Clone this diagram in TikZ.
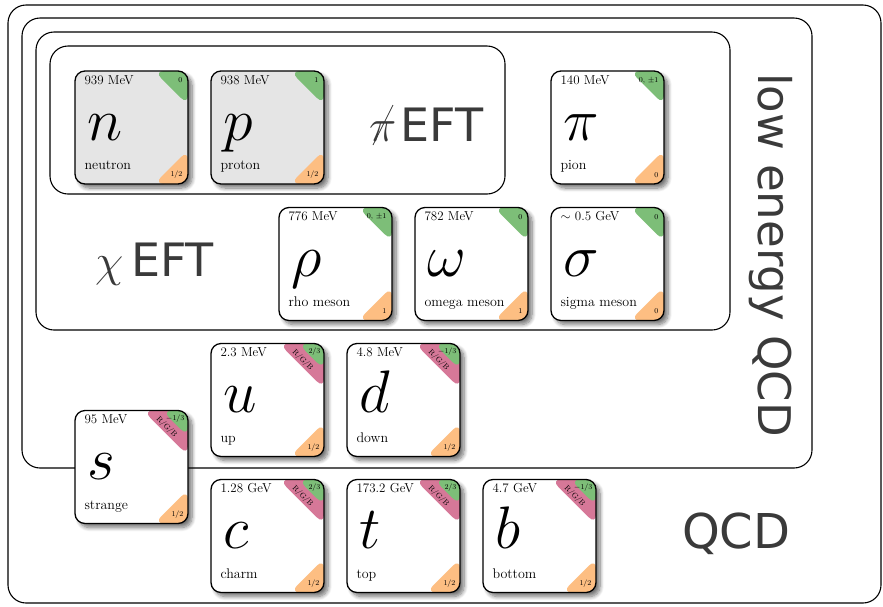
\documentclass[tikz,border=0pt]{standalone}
\usepackage{fix-cm}
\usepackage{fontspec}
\newfontfamily\labelsans{DejaVu Sans}
\usetikzlibrary{shadows.blur}
\definecolor{cgreen}{RGB}{125,190,120}
\definecolor{corange}{RGB}{253,190,130}
\definecolor{cpink}{RGB}{214,120,152}
\definecolor{cgray}{RGB}{229,229,229}
\definecolor{txtgray}{RGB}{58,58,58}
\tikzset{
  region/.style={draw, line width=1.1pt, rounded corners=18pt},
  card/.style={draw, line width=1.3pt, rounded corners=10pt, minimum width=113pt, minimum height=113pt, inner sep=0pt,
    blur shadow={shadow xshift=4pt, shadow yshift=-4pt, shadow blur steps=8, shadow blur radius=4pt, shadow opacity=55}},
  hadronbg/.style={path picture={
    \fill[cgreen] (path picture bounding box.north east) -- ++(-34,0) -- ++(34,34) -- cycle;
    \fill[corange] (path picture bounding box.south east) -- ++(-34,0) -- ++(34,-34) -- cycle;}},
  quarkbg/.style={path picture={
    \fill[cpink] (path picture bounding box.north east) -- ++(-45,0) -- ++(45,45) -- cycle;
    \fill[cgreen] (path picture bounding box.north east) -- ++(-26,0) -- ++(26,26) -- cycle;
    \fill[corange] (path picture bounding box.south east) -- ++(-34,0) -- ++(34,-34) -- cycle;}},
  masst/.style={inner sep=0pt, font=\fontsize{13}{13}\selectfont},
  namet/.style={inner sep=0pt, font=\fontsize{14}{14}\selectfont},
  symt/.style={inner sep=0pt, font=\fontsize{60}{60}\selectfont},
  tinyt/.style={inner sep=0pt, font=\fontsize{7.5}{7.5}\selectfont},
  bigsans/.style={inner sep=0pt, text=txtgray, font=\labelsans\fontsize{46}{46}\selectfont},
}
\newcommand\hadron[9]{%
  \node[card, fill=#4, hadronbg] (#1) at (#2,#3) {};
  \node[masst, anchor=base west] (#1-m) at ([shift={(10,14)}]#1.north west) {#5};
  \node[symt, anchor=base west] (#1-s) at ([shift={(13,70)}]#1.north west) {$#6$};
  \node[namet, anchor=base west] (#1-n) at ([shift={(10,-15)}]#1.south west) {#7};
  \node[tinyt, anchor=east] (#1-q) at ([shift={(-6,10)}]#1.north east) {#8};
  \node[tinyt, anchor=east] (#1-j) at ([shift={(-6,-10)}]#1.south east) {#9};
}
\newcommand\quark[7]{%
  \node[card, fill=white, quarkbg] (#1) at (#2,#3) {};
  \node[masst, anchor=base west] (#1-m) at ([shift={(10,14)}]#1.north west) {#4};
  \node[symt, anchor=base west] (#1-s) at ([shift={(13,70)}]#1.north west) {$#5$};
  \node[namet, anchor=base west] (#1-n) at ([shift={(10,-15)}]#1.south west) {#6};
  \node[tinyt, anchor=east] (#1-q) at ([shift={(-4,9)}]#1.north east) {#7};
  \node[tinyt, rotate=-45] (#1-c) at ([shift={(-22,17)}]#1.north east) {R/G/B};
  \node[tinyt, anchor=east] (#1-j) at ([shift={(-5,-10)}]#1.south east) {1/2};
}
\begin{document}
\begin{tikzpicture}[x=1pt,y=-1pt]
\useasboundingbox (0,0) rectangle (883,606);
% nested regions
\draw[region] (8,5) rectangle (881,603);
\draw[region] (22,18) rectangle (812,468);
\draw[region] (36,32) rectangle (730,330);
\draw[region] (50,46) rectangle (505,194);
% region labels
\node[bigsans, anchor=base west] (pisym) at (369,141) {$\pi$};
\node[bigsans, anchor=base west] (pieft) at ([xshift=4pt]pisym.base east) {EFT};
\draw[txtgray, line width=0.8pt] ([shift={(4,4)}]pisym.base west) -- ([shift={(24,-36)}]pisym.base west);
\node[bigsans, anchor=base west] (chieft) at (95,276) {$\chi$\,EFT};
\node[bigsans, anchor=base west, font=\labelsans\fontsize{48}{48}\selectfont] (qcd) at (682,548) {QCD};
\node[bigsans, font=\labelsans\fontsize{45}{45}\selectfont, rotate=-90] (leqcd) at (771,255) {low energy QCD};
% hadrons
\hadron{n}{131.5}{127.5}{cgray}{939 MeV}{n}{neutron}{0}{1/2}
\hadron{p}{267.5}{127.5}{cgray}{938 MeV}{p}{proton}{1}{1/2}
\hadron{pi}{607.5}{127.5}{white}{140 MeV}{\pi}{pion}{0, $\pm$1}{0}
\hadron{rho}{335.5}{264}{white}{776 MeV}{\rho}{rho meson}{0, $\pm$1}{1}
\hadron{omega}{471.5}{264}{white}{782 MeV}{\omega}{omega meson}{0}{1}
\hadron{sigma}{607.5}{264}{white}{$\sim$ 0.5 GeV}{\sigma}{sigma meson}{0}{0}
% quarks
\quark{u}{267.5}{400}{2.3 MeV}{u}{up}{2/3}
\quark{d}{403.5}{400}{4.8 MeV}{d}{down}{$-$1/3}
\quark{s}{131.5}{467}{95 MeV}{s}{strange}{$-$1/3}
\quark{c}{267.5}{536}{1.28 GeV}{c}{charm}{2/3}
\quark{t}{403.5}{536}{173.2 GeV}{t}{top}{2/3}
\quark{b}{539.5}{536}{4.7 GeV}{b}{bottom}{$-$1/3}
\end{tikzpicture}
\end{document}
